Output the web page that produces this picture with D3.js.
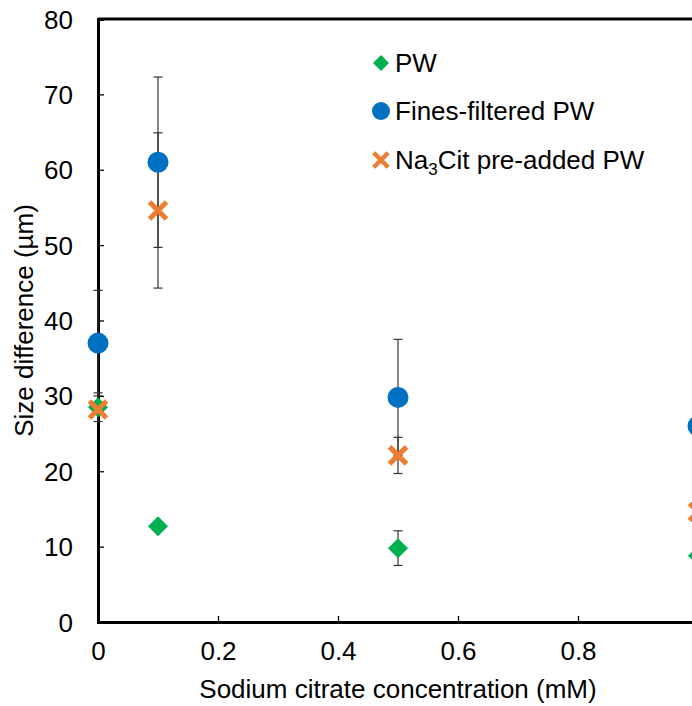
<!DOCTYPE html>
<html>
<head>
<meta charset="utf-8">
<script src="https://cdn.jsdelivr.net/npm/d3@7"></script>
<style>
  html, body { margin: 0; padding: 0; background: #fff; }
  svg { display: block; font-family: "Liberation Sans", Arial, sans-serif; }
</style>
</head>
<body>
<svg id="chart" width="692" height="706"></svg>
<script>
// Sodium citrate concentration (mM)
const concentrations = [0, 0.1, 0.5, 1.0];

// Size difference (µm) per series, with symmetric error bars
const pwValues = [28.5, 12.7, 9.8, 8.8];
const pwErrors = [1.9, 0, 2.3, 0];

const finesValues = [37.0, 61.0, 29.8, 26.0];
const finesErrors = [7.0, 11.3, 7.7, 0];

const citValues = [28.2, 54.6, 22.1, 14.6];
const citErrors = [0, 10.3, 2.4, 0];

const xTicks = [0, 0.2, 0.4, 0.6, 0.8];
const yTicks = [0, 10, 20, 30, 40, 50, 60, 70, 80];

const series = [
  { name: "PW", values: pwValues, errors: pwErrors, color: "#00B050", shape: "diamond" },
  { name: "Fines-filtered PW", values: finesValues, errors: finesErrors, color: "#0070C0", shape: "circle" },
  { name: "Na3Cit pre-added PW", values: citValues, errors: citErrors, color: "#ED7D31", shape: "cross" }
];

const FONT = "26px";
const svg = d3.select("#chart");
const margin = { left: 98, top: 19, bottom: 84 };
const plotBottom = 706 - margin.bottom;

const x = d3.scaleLinear().domain([0, 1]).range([margin.left, 698]);
const y = d3.scaleLinear().domain([0, 80]).range([plotBottom, margin.top]);

// Top frame line
svg.append("line")
  .attr("x1", x(0)).attr("x2", 702)
  .attr("y1", y(80)).attr("y2", y(80))
  .attr("stroke", "#000").attr("stroke-width", 3);

// Axes with inward ticks
const yAxis = svg.append("g")
  .attr("transform", `translate(${x(0)},0)`)
  .call(d3.axisLeft(y).tickValues(yTicks).tickSize(-6).tickPadding(25).tickFormat(d3.format("d")));
const xAxis = svg.append("g")
  .attr("transform", `translate(0,${plotBottom})`)
  .call(d3.axisBottom(x).tickValues(xTicks).tickSize(-6).tickPadding(20).tickFormat(d => d === 0 ? "0" : d3.format(".1f")(d)));

[xAxis, yAxis].forEach(g => {
  g.select(".domain").attr("stroke", "#000").attr("stroke-width", 3);
  g.selectAll(".tick line").attr("stroke", "#000").attr("stroke-width", 1.3);
  g.selectAll(".tick text").attr("fill", "#000").style("font-size", FONT);
});
yAxis.selectAll(".tick text").attr("dy", "0.35em");

// Axis titles
svg.append("text")
  .attr("x", x(0.5)).attr("y", 698)
  .attr("text-anchor", "middle")
  .style("font-size", FONT)
  .text("Sodium citrate concentration (mM)");

svg.append("text")
  .attr("transform", `translate(33,${(y(0) + y(80)) / 2}) rotate(-90)`)
  .attr("text-anchor", "middle")
  .style("font-size", FONT)
  .text("Size difference (µm)");

// Marker drawing
function drawMarker(g, shape, color, cx, cy, size) {
  if (shape === "circle") {
    g.append("circle").attr("cx", cx).attr("cy", cy).attr("r", size).attr("fill", color);
  } else if (shape === "diamond") {
    g.append("path")
      .attr("d", `M${cx},${cy - size}L${cx + size},${cy}L${cx},${cy + size}L${cx - size},${cy}Z`)
      .attr("fill", color);
  } else {
    g.append("path")
      .attr("d", `M${cx - size},${cy - size}L${cx + size},${cy + size}M${cx - size},${cy + size}L${cx + size},${cy - size}`)
      .attr("stroke", color).attr("stroke-width", size * 0.6).attr("fill", "none");
  }
}
const plotSize = { circle: 10.5, diamond: 10, cross: 8.5 };
const legendSize = { circle: 9, diamond: 8, cross: 7.2 };

// Error bars
const errG = svg.append("g");
series.forEach(s => {
  s.values.forEach((v, i) => {
    const e = s.errors[i];
    if (!e) return;
    const cx = x(concentrations[i]);
    errG.append("line").attr("x1", cx).attr("x2", cx).attr("y1", y(v - e)).attr("y2", y(v + e))
      .attr("stroke", "#333").attr("stroke-width", 1.2);
    [v - e, v + e].forEach(t => {
      errG.append("line").attr("x1", cx - 4.5).attr("x2", cx + 4.5).attr("y1", y(t)).attr("y2", y(t))
        .attr("stroke", "#333").attr("stroke-width", 1.2);
    });
  });
});

// Points
const ptG = svg.append("g");
series.forEach(s => {
  s.values.forEach((v, i) => drawMarker(ptG, s.shape, s.color, x(concentrations[i]), y(v), plotSize[s.shape]));
});

// Legend
const legendRows = [63, 111, 160];
const legend = svg.append("g");
series.forEach((s, i) => {
  const ly = legendRows[i];
  drawMarker(legend, s.shape, s.color, 381, ly, legendSize[s.shape]);
  const t = legend.append("text").attr("x", 395).attr("y", ly).attr("dy", "0.36em").style("font-size", FONT);
  if (s.shape === "cross") {
    t.append("tspan").text("Na");
    t.append("tspan").attr("dy", 6).style("font-size", "17px").text("3");
    t.append("tspan").attr("dy", -6).text("Cit pre-added PW");
  } else {
    t.text(s.name);
  }
});
</script>
</body>
</html>
